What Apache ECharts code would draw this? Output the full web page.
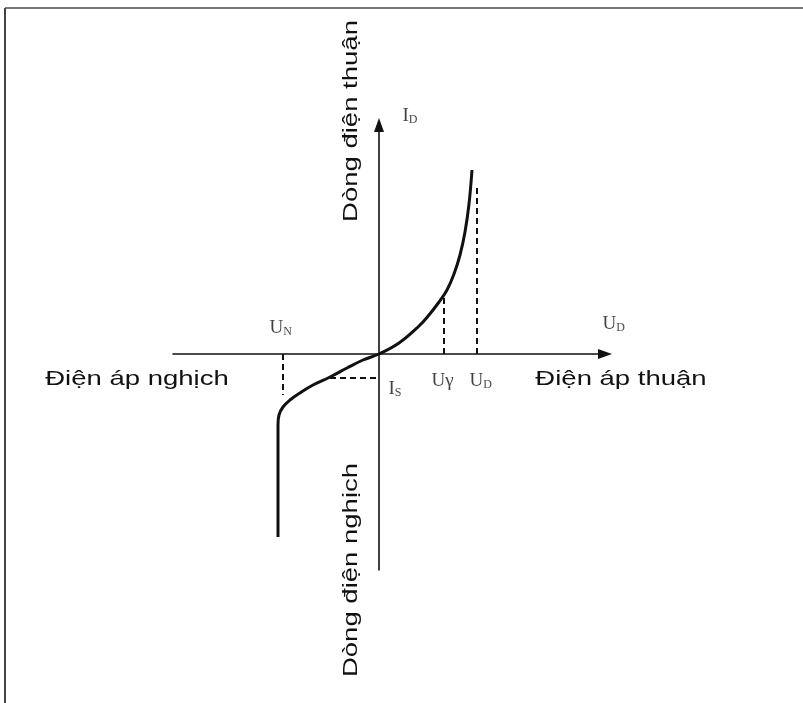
<!DOCTYPE html>
<html>
<head>
<meta charset="utf-8">
<script src="https://cdn.jsdelivr.net/npm/echarts@6/dist/echarts.min.js"></script>
<style>
  html, body { margin: 0; padding: 0; background: #fff; }
  #chart { width: 803px; height: 703px; }
</style>
</head>
<body>
<div id="chart"></div>
<script>
// Diode current–voltage characteristic, arbitrary units (U horizontal, I vertical)
const reverseBranch = [
  [-1.01, -1.83], [-1.01, -0.71], [-1.00, -0.61], [-0.96, -0.53], [-0.89, -0.46],
  [-0.79, -0.39], [-0.66, -0.31], [-0.49, -0.23], [-0.32, -0.14], [-0.16, -0.06], [0, 0]
];
const forwardBranch = [
  [0, 0], [0.20, 0.11], [0.40, 0.28], [0.50, 0.39], [0.60, 0.52], [0.68, 0.64],
  [0.75, 0.80], [0.81, 0.99], [0.86, 1.22], [0.90, 1.50], [0.93, 1.84]
];
// Marked points: [U, I]
const uGamma = [0.65, 0.59];     // threshold voltage Uγ
const uDiode = [0.98, 1.66];     // operating voltage U_D
const uBreak = [-0.96, -0.41];   // breakdown voltage U_N
const iSat = [-0.49, -0.24];     // saturation current I_S
// Axis extents
const rangeU = [-2.06, 2.26];
const rangeI = [-2.16, 2.29];
// Region titles
const titleReverseU = 'Điện áp nghịch';
const titleForwardU = 'Điện áp thuận';
const titleForwardI = 'Dòng điện thuận';
const titleReverseI = 'Dòng điện nghịch';

const chart = echarts.init(document.getElementById('chart'), null, { renderer: 'canvas' });

const ink = '#111';
const sansFont = '"Liberation Sans", Arial, sans-serif';
const serifFont = '"Liberation Serif", "Times New Roman", serif';

function axisCommon(range) {
  return {
    type: 'value',
    min: range[0],
    max: range[1],
    axisLine: {
      show: true,
      onZero: true,
      symbol: ['none', 'triangle'],
      symbolSize: [10, 14],
      lineStyle: { color: ink, width: 1.6 }
    },
    axisTick: { show: false },
    axisLabel: { show: false },
    splitLine: { show: false }
  };
}

function guide(points) {
  return {
    type: 'line',
    data: points,
    showSymbol: false,
    silent: true,
    lineStyle: { color: ink, width: 2, type: [6, 4] },
    z: 2
  };
}

const richStyles = {
  m: { fontFamily: serifFont, fontSize: 19, color: ink },
  s: { fontFamily: serifFont, fontSize: 12, color: ink, verticalAlign: 'bottom', lineHeight: 10 }
};

function noteItem(point, text, dx, dy) {
  return {
    value: point,
    label: {
      show: true,
      formatter: text,
      position: [dx, dy],
      align: 'left',
      verticalAlign: 'middle',
      rich: richStyles
    }
  };
}

const curve = reverseBranch.concat(forwardBranch.slice(1));

const option = {
  backgroundColor: '#fff',
  animation: false,
  grid: { left: 173, right: 198, top: 125, bottom: 133 },
  xAxis: axisCommon(rangeU),
  yAxis: axisCommon(rangeI),
  series: [
    {
      type: 'line',
      data: curve,
      smooth: 0.4,
      showSymbol: false,
      silent: true,
      lineStyle: { color: ink, width: 3 },
      z: 3
    },
    guide([[uGamma[0], 0], [uGamma[0], uGamma[1]]]),
    guide([[uDiode[0], 0], [uDiode[0], uDiode[1]]]),
    guide([[uBreak[0], 0], [uBreak[0], uBreak[1]]]),
    guide([[iSat[0], iSat[1]], [0, iSat[1]]]),
    {
      type: 'scatter',
      symbolSize: 1,
      itemStyle: { color: 'rgba(0,0,0,0)' },
      silent: true,
      z: 4,
      data: [
        noteItem([0, rangeI[1]], '{m|I}{s|D}', 24, -8),
        noteItem([rangeU[1], 0], '{m|U}{s|D}', -2, -29),
        noteItem([uBreak[0], 0], '{m|U}{s|N}', -13, -25),
        noteItem([uGamma[0], 0], '{m|Uγ}', -12, 28),
        noteItem([uDiode[0], 0], '{m|U}{s|D}', -7, 28),
        noteItem([0, iSat[1]], '{m|I}{s|S}', 10, 12)
      ]
    }
  ],
  graphic: [
    // frame edges
    { type: 'line', silent: true, shape: { x1: 5, y1: 8, x2: 803, y2: 8 }, style: { stroke: '#7a7a7a', lineWidth: 2 } },
    { type: 'line', silent: true, shape: { x1: 5, y1: 8, x2: 5, y2: 703 }, style: { stroke: '#444', lineWidth: 2 } },
    // region titles
    {
      type: 'text', silent: true, x: 137, y: 379, scaleX: 1.31,
      style: { text: titleReverseU, fontFamily: sansFont, fontSize: 21, fill: ink, align: 'center', verticalAlign: 'middle' }
    },
    {
      type: 'text', silent: true, x: 621, y: 379, scaleX: 1.31,
      style: { text: titleForwardU, fontFamily: sansFont, fontSize: 21, fill: ink, align: 'center', verticalAlign: 'middle' }
    },
    {
      type: 'text', silent: true, x: 351, y: 121, rotation: Math.PI / 2, scaleX: 1.31,
      style: { text: titleForwardI, fontFamily: sansFont, fontSize: 21, fill: ink, align: 'center', verticalAlign: 'middle' }
    },
    {
      type: 'text', silent: true, x: 351, y: 570, rotation: Math.PI / 2, scaleX: 1.31,
      style: { text: titleReverseI, fontFamily: sansFont, fontSize: 21, fill: ink, align: 'center', verticalAlign: 'middle' }
    }
  ]
};

chart.setOption(option);
</script>
</body>
</html>
